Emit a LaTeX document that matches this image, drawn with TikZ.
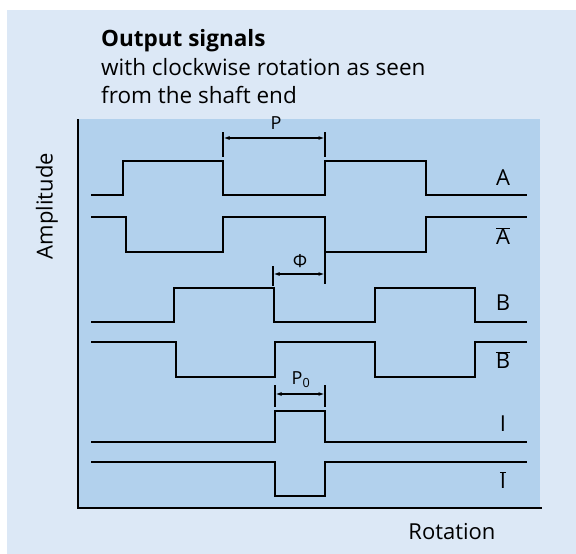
\documentclass[tikz,border=0pt]{standalone}
\usepackage{fontspec}
\setmainfont{Open Sans}
\usetikzlibrary{arrows.meta}
\definecolor{outerbg}{RGB}{220,232,246}
\definecolor{panelbg}{RGB}{178,209,237}
\newcommand{\ovl}[1]{$\overline{\mbox{#1}}$}
\begin{document}
\begin{tikzpicture}[x=1pt,y=-1pt,
  signal/.style={line width=1.6pt,line join=miter},
  axis/.style={line width=2.2pt},
  dim/.style={line width=1.2pt,{Latex[length=6pt,width=4pt]}-{Latex[length=6pt,width=4pt]},shorten <=0.5pt,shorten >=0.5pt},
  tick/.style={line width=1.5pt},
  lbl/.style={font=\fontsize{22}{22}\selectfont},
  dimlbl/.style={font=\fontsize{18}{18}\selectfont}]
  \useasboundingbox (0,0) rectangle (576,554);
  % backgrounds
  \fill[outerbg] (7,10) rectangle (576,554);
  \fill[panelbg] (78,119) rectangle (540,508);
  % heading
  \node[anchor=base west,inner sep=0pt,font=\fontsize{22.5}{22.5}\selectfont\bfseries] (title) at (101,46) {Output signals};
  \node[anchor=base west,inner sep=0pt,font=\fontsize{22.5}{22.5}\selectfont] (sub1) at (101,75) {with clockwise rotation as seen};
  \node[anchor=base west,inner sep=0pt,font=\fontsize{22.5}{22.5}\selectfont] (sub2) at (101,103) {from the shaft end};
  % axes
  \draw[axis] (78,119) -- (78,508) -- (542,508);
  \node[lbl,rotate=90] (amp) at (47,206) {Amplitude};
  \node[lbl] (rot) at (452,532) {Rotation};
  % A and A-bar
  \draw[signal] (91,195) -| (123,161) -| (223,195) -| (325,161) -| (426,195) -- (527,195);
  \draw[signal] (91,217) -| (126,252) -| (223,217) -| (325,252) -| (426,217) -- (527,217);
  \node[lbl] (la) at (503,178) {A};
  \node[lbl] (lab) at (503,236) {\ovl{A}};
  % B and B-bar
  \draw[signal] (91,322) -| (174,288) -| (274,322) -| (375,288) -| (475,322) -- (527,322);
  \draw[signal] (91,342) -| (176,377) -| (275,342) -| (375,377) -| (475,342) -- (527,342);
  \node[lbl] (lb) at (503,303) {B};
  \node[lbl] (lbb) at (503,360) {\ovl{B}};
  % I and I-bar
  \draw[signal] (91,442) -| (275,411) -| (325,442) -- (527,442);
  \draw[signal] (91,462) -| (275,496) -| (325,462) -- (527,462);
  \node[lbl] (li) at (503,424) {I};
  \node[lbl] (lib) at (503,480) {\ovl{I}};
  % dimension P
  \draw[tick] (223,132) -- (223,157);
  \draw[tick] (325,132) -- (325,157);
  \coordinate (p1) at (223,138);
  \coordinate (p2) at (325,138);
  \draw[dim] (p1) -- (p2);
  \node[dimlbl] (lp) at (276,123) {P};
  % dimension phi
  \draw[tick] (273,266) -- (273,286);
  \draw[signal] (325,252) -- (325,284);
  \coordinate (f1) at (273,274);
  \coordinate (f2) at (325,274);
  \draw[dim] (f1) -- (f2);
  \node[dimlbl] (lf) at (300,261) {Φ};
  % dimension P0
  \draw[tick] (275,385) -- (275,407);
  \draw[tick] (325,385) -- (325,407);
  \coordinate (z1) at (275,394);
  \coordinate (z2) at (325,394);
  \draw[dim] (z1) -- (z2);
  \node[dimlbl] (lz) at (301,380) {P\textsubscript{0}};
\end{tikzpicture}
\end{document}
